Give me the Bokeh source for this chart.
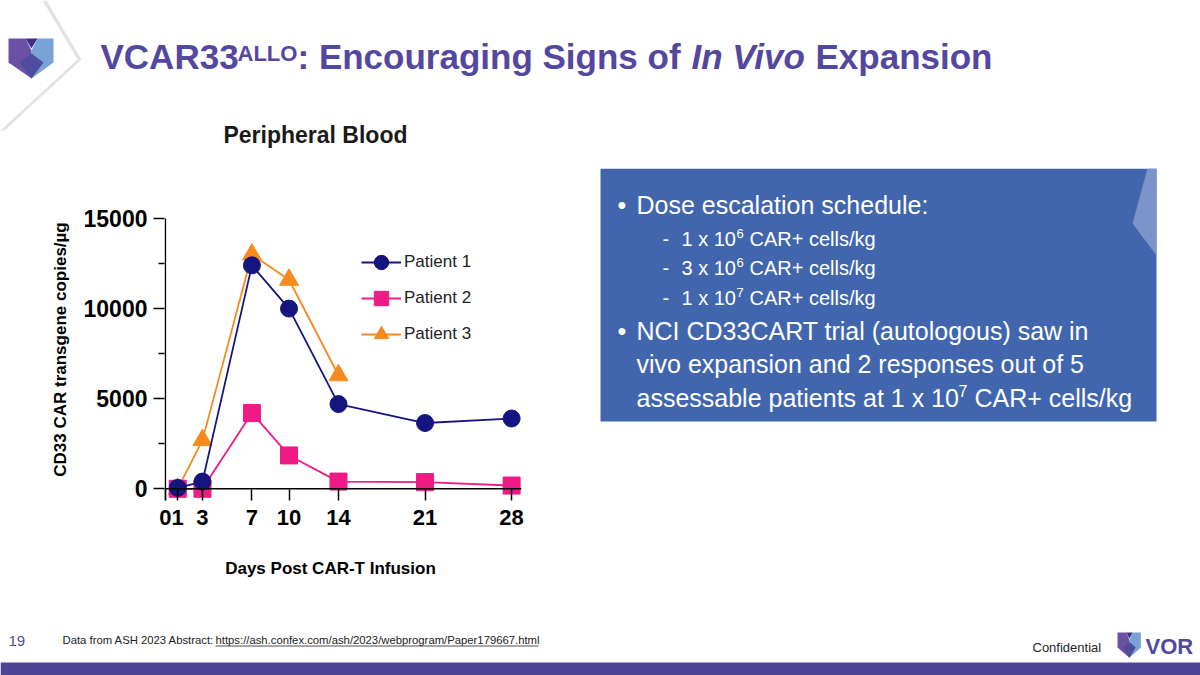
import math
from bokeh.plotting import figure
from bokeh.layouts import column, row
from bokeh.models import Range1d, FixedTicker, Span, Legend, LegendItem, ColumnDataSource
from bokeh.core.properties import value
from bokeh.embed import file_html
from bokeh.resources import INLINE

# ---------------- data ----------------
series_names = ["Patient 1", "Patient 2", "Patient 3"]
days_p1 = [1, 3, 7, 10, 14, 21, 28]
patient1 = [50, 400, 12400, 10000, 4700, 3650, 3900]
days_p2 = [1, 3, 7, 10, 14, 21, 28]
patient2 = [0, 0, 4200, 1850, 400, 370, 180]
days_p3 = [1, 3, 7, 10, 14]
patient3 = [0, 2700, 13000, 11600, 6300]
x_ticks = [0, 1, 3, 7, 10, 14, 21, 28]
y_ticks = [0, 5000, 10000, 15000]
y_minor_ticks = [2500, 7500, 12500]
y_axis_extent = [-650, 15000]

chart_title = "Peripheral Blood"
x_label = "Days Post CAR-T Infusion"
y_label = "CD33 CAR transgene copies/µg"

FONT_NAME = "Liberation Sans"
FONT = value(FONT_NAME)
PURPLE = "#54479f"
BOX_BLUE = "#4166ad"
NAVY = "#15157f"
PINK = "#ee1a86"
ORANGE = "#f68a1f"


def deco_fig(w, h, x0, x1, y0, y1, **kw):
    return figure(width=w, height=h, x_range=Range1d(x0, x1), y_range=Range1d(y1, y0),
                  x_axis_type=None, y_axis_type=None, output_backend="svg",
                  toolbar_location=None, outline_line_color=None, **kw)


def txt(f, x, y, s, size, color, style="normal", align="left"):
    # y is the wanted alphabetic baseline; the renderer anchors near the glyph middle
    px = float(size.replace("px", ""))
    f.text(x=[x], y=[y - 0.36 * px], text=[s], text_font=FONT, text_font_size=size,
           text_font_style=style, text_color=color, text_align=align,
           text_baseline="alphabetic")


def logo(f, ox, oy, sx, sy):
    left = ([0, 17, 23, 23, 0], [0, 0, 12, 40, 24])
    right = ([29, 45, 45, 23, 23], [0, 0, 24, 40, 12])
    notch = ([17, 29, 23], [0, 0, 10])
    bottom = ([11, 23, 35, 23], [24, 15, 24, 40])
    for (xs, ys), c in [(left, "#6b51a3"), (right, "#79a3d7"), (bottom, "#4f4c9e"), (notch, "#3f2f85")]:
        f.patch([ox + v * sx for v in xs], [oy + v * sy for v in ys], fill_color=c, line_color=None)


# ---------------- top band (page y 0..168) ----------------
top = deco_fig(1200, 168, 0, 1200, 0, 168, min_border=0)
top.patch([42, 46, 81, 77], [0, 0, 59, 59], fill_color="#e2e2e2", line_color=None)
top.patch([77, 81, 4, 0], [59, 59, 130, 130], fill_color="#e2e2e2", line_color=None)
logo(top, 8, 38, 1.0, 1.0)
txt(top, 100, 69, "VCAR33", "35px", PURPLE, "bold")
txt(top, 237, 61, "ALLO", "22px", PURPLE, "bold")
txt(top, 297, 69, ": Encouraging Signs of", "35px", PURPLE, "bold")
txt(top, 691, 69, "In Vivo", "35px", PURPLE, "bold italic")
txt(top, 815, 69, "Expansion", "35px", PURPLE, "bold")
txt(top, 315, 143, chart_title, "23px", "#1a1a1a", "bold", "center")

# ---------------- middle row (page y 168..540; plot frames y 168..500) ----------------
ylab = deco_fig(80, 372, 0, 80, 168, 500,
                min_border_left=0, min_border_right=0, min_border_top=0, min_border_bottom=40)
ylab.text(x=[60], y=[349], text=[y_label], angle=math.pi / 2, text_font=FONT,
          text_font_size="17px", text_font_style="bold", text_color="black",
          text_align="center", text_baseline="middle")

chart = figure(width=500, height=372, x_range=Range1d(-0.07, 28.8), y_range=Range1d(-650, 17775),
               output_backend="svg", toolbar_location=None,
               min_border_left=82, min_border_right=59, min_border_top=0, min_border_bottom=40,
               outline_line_color=None)
chart.grid.visible = False

yax = chart.yaxis[0]
yax.ticker = FixedTicker(ticks=y_ticks, minor_ticks=y_minor_ticks)
yax.axis_line_color = None
yax.major_tick_out = 11
yax.major_tick_in = 0
yax.minor_tick_out = 6
yax.minor_tick_in = 0
yax.major_tick_line_width = 1.5
yax.minor_tick_line_width = 1.5
yax.major_tick_line_color = "black"
yax.minor_tick_line_color = "black"
yax.major_label_standoff = 6
yax.major_label_text_font = FONT_NAME
yax.major_label_text_font_size = "23px"
yax.major_label_text_font_style = "bold"
yax.major_label_text_color = "black"

xax = chart.xaxis[0]
xax.ticker = FixedTicker(ticks=x_ticks, minor_ticks=[])
xax.axis_line_color = None
xax.major_tick_in = 11
xax.major_tick_out = 0
xax.major_tick_line_width = 1.5
xax.major_tick_line_color = "black"
xax.minor_tick_line_color = None
xax.major_label_standoff = 9
xax.major_label_text_font = FONT_NAME
xax.major_label_text_font_size = "22px"
xax.major_label_text_font_style = "bold"
xax.major_label_text_color = "black"

# y-axis line (0 .. 15000 plus the short drop below zero) and the zero baseline
chart.line([0, 0], y_axis_extent, line_color="black", line_width=1.5)
chart.add_layout(Span(location=0, dimension="width", line_color="black", line_width=1.5))

specs = [
    (days_p3, patient3, ORANGE, "triangle", 2),
    (days_p2, patient2, PINK, "square", 1),
    (days_p1, patient1, NAVY, "circle", 0),
]
items = {}
for days, vals, color, marker, idx in specs:
    src = ColumnDataSource(dict(day=days, val=vals))
    ln = chart.line("day", "val", source=src, line_color=color, line_width=1.8)
    sc = chart.scatter("day", "val", source=src, marker=marker, size=17 if marker != "triangle" else 19,
                       fill_color=color, line_color=color)
    items[idx] = LegendItem(label=series_names[idx], renderers=[ln, sc])

legend = Legend(items=[items[0], items[1], items[2]], location=(197, 148),
                glyph_width=40, glyph_height=36, label_height=36, spacing=0,
                padding=0, margin=0, label_standoff=3,
                label_text_font=FONT_NAME, label_text_font_size="17px", label_text_color="#222222",
                border_line_color=None, background_fill_alpha=0)
chart.add_layout(legend)

box = deco_fig(620, 372, 580, 1200, 168, 500,
               min_border_left=0, min_border_right=0, min_border_top=0, min_border_bottom=40)
box.quad(left=[600], right=[1156], top=[168], bottom=[421], fill_color=BOX_BLUE, line_color=None)
box.patch([1147, 1156, 1156, 1132], [168, 168, 255, 223], fill_color="#7b94c9", line_color=None)
W = "white"
txt(box, 617, 213, "•", "25px", W)
txt(box, 636, 213, "Dose escalation schedule:", "25px", W)
for yb, a, sup in [(246, "1 x 10", "6"), (275, "3 x 10", "6"), (305, "1 x 10", "7")]:
    txt(box, 662, yb, "-", "20px", W)
    txt(box, 681, yb, a, "20px", W)
    txt(box, 736, yb - 8, sup, "13px", W)
    txt(box, 749, yb, "CAR+ cells/kg", "20px", W)
txt(box, 617, 339, "•", "25px", W)
txt(box, 636, 339, "NCI CD33CART trial (autologous) saw in", "25px", W)
txt(box, 636, 372, "vivo expansion and 2 responses out of 5", "25px", W)
txt(box, 636, 406, "assessable patients at 1 x 10", "25px", W)
txt(box, 958, 396, "7", "16px", W)
txt(box, 974, 406, "CAR+ cells/kg", "25px", W)

# ---------------- bottom (page y 540..675) ----------------
foot = deco_fig(1200, 135, 0, 1200, 540, 675, min_border=0)
txt(foot, 330, 574, x_label, "17px", "black", "bold", "center")
txt(foot, 8, 646, "19", "15px", "#4f4e9c")
txt(foot, 62, 644, "Data from ASH 2023 Abstract:", "11.3px", "#222222")
txt(foot, 215, 644, "https://ash.confex.com/ash/2023/webprogram/Paper179667.html", "11.3px", "#222222")
foot.line([215, 538], [645.5, 645.5], line_color="#222222", line_width=0.8)
txt(foot, 1032, 652, "Confidential", "13px", "#262626")
logo(foot, 1117, 632, 0.52, 0.63)
txt(foot, 1145, 654, "VOR", "22px", PURPLE, "bold")
foot.quad(left=[0], right=[1200], top=[662], bottom=[675], fill_color="#4e4494", line_color=None)

layout = column(top, row(ylab, chart, box), foot)

open("out.html", "w").write(file_html(layout, INLINE))
